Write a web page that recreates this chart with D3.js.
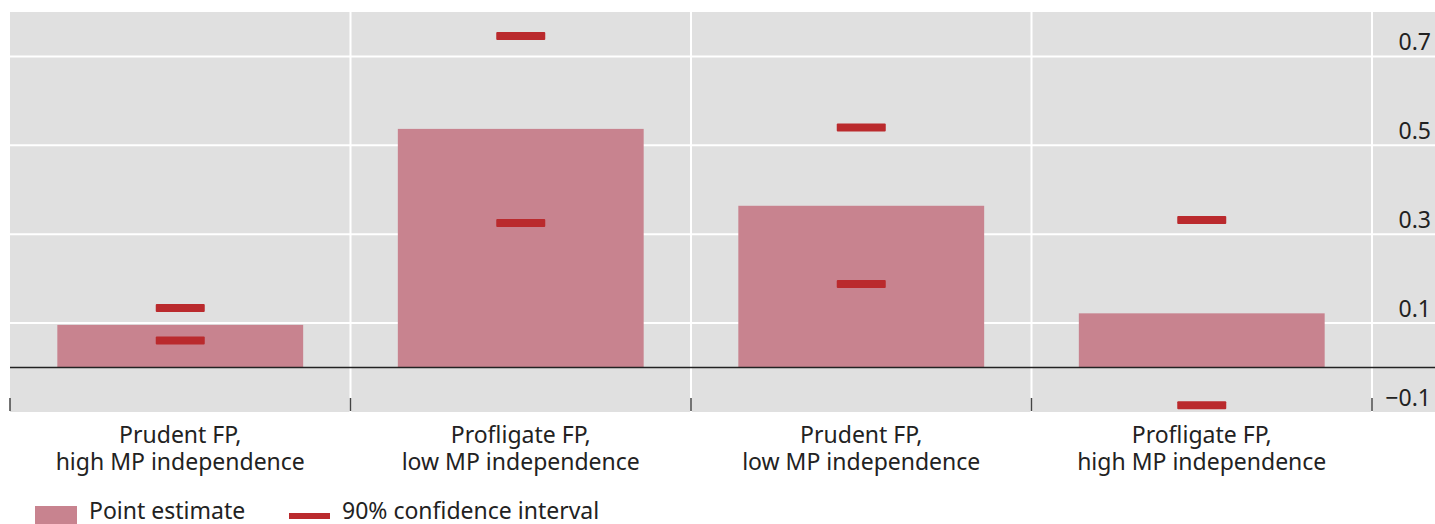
<!DOCTYPE html>
<html>
<head>
<meta charset="utf-8">
<script src="https://cdn.jsdelivr.net/npm/d3@7"></script>
<style>
  body { margin: 0; background: #fff; }
  svg text { font-family: "Noto Sans", "Open Sans", sans-serif; fill: #222; }
</style>
</head>
<body>
<div id="chart"></div>
<script>
const WIDTH = 1435, HEIGHT = 524;
const categories = ["Prudent FP,\nhigh MP independence", "Profligate FP,\nlow MP independence",
  "Prudent FP,\nlow MP independence", "Profligate FP,\nhigh MP independence"];
const pointEstimate = [0.096, 0.537, 0.364, 0.122];
const ciUpper = [0.134, 0.746, 0.540, 0.332];
const ciLower = [0.061, 0.325, 0.188, -0.085];
const yTicks = [-0.1, 0.1, 0.3, 0.5, 0.7];

const plot = {left: 10, right: 1372, top: 12, bottom: 412};
const BAR_COLOR = "#c8838f";
const CI_COLOR = "#ba2a2d";

let svg = d3.select("#chart").append("svg")
  .attr("width", WIDTH).attr("height", HEIGHT);

let x = d3.scaleBand().domain(categories).range([plot.left, plot.right]);
let y = d3.scaleLinear().domain([-0.1, 0.8]).range([plot.bottom, plot.top]);

// background
svg.append("rect")
  .attr("x", plot.left).attr("y", plot.top)
  .attr("width", WIDTH - plot.left).attr("height", plot.bottom - plot.top)
  .attr("fill", "#e0e0e0");

// horizontal grid
svg.append("g").selectAll("line").data(yTicks.filter(d => d > 0)).enter()
  .append("line")
  .attr("x1", plot.left).attr("x2", WIDTH)
  .attr("y1", d => y(d)).attr("y2", d => y(d))
  .attr("stroke", "#fff").attr("stroke-width", 2);

// vertical grid at band edges
let edges = categories.slice(1).map(c => x(c)).concat([plot.right]);
svg.append("g").selectAll("line").data(edges).enter()
  .append("line")
  .attr("x1", d => d).attr("x2", d => d)
  .attr("y1", plot.top).attr("y2", plot.bottom)
  .attr("stroke", "#fff").attr("stroke-width", 2);

// bars
let barW = x.bandwidth() * 0.722;
svg.append("g").selectAll("rect").data(pointEstimate).enter()
  .append("rect")
  .attr("x", (d, i) => x(categories[i]) + (x.bandwidth() - barW) / 2)
  .attr("width", barW)
  .attr("y", d => y(Math.max(d, 0)))
  .attr("height", d => Math.abs(y(d) - y(0)))
  .attr("fill", BAR_COLOR);

// zero line
svg.append("line")
  .attr("x1", plot.left).attr("x2", WIDTH)
  .attr("y1", y(0)).attr("y2", y(0))
  .attr("stroke", "#222").attr("stroke-width", 1.5);

// CI markers
let ciW = 49, ciH = 8;
let ci = [];
categories.forEach((c, i) => { ci.push({c: c, v: ciUpper[i]}); ci.push({c: c, v: ciLower[i]}); });
svg.append("g").selectAll("rect").data(ci).enter()
  .append("rect")
  .attr("x", d => x(d.c) + x.bandwidth() / 2 - ciW / 2)
  .attr("y", d => y(d.v) - ciH / 2)
  .attr("width", ciW).attr("height", ciH)
  .attr("rx", 1)
  .attr("fill", CI_COLOR);

// bottom x ticks
let tickX = [plot.left].concat(edges);
svg.append("g").selectAll("line").data(tickX).enter()
  .append("line")
  .attr("x1", d => d).attr("x2", d => d)
  .attr("y1", plot.bottom - 14).attr("y2", plot.bottom - 1)
  .attr("stroke", "#444").attr("stroke-width", 1.5);

// y tick labels (right side, sitting above the gridline)
svg.append("g").selectAll("text").data(yTicks).enter()
  .append("text")
  .attr("x", 1431)
  .attr("y", d => y(d) - 6)
  .attr("text-anchor", "end")
  .style("font-size", "23px")
  .text(d => d < 0 ? "\u2212" + Math.abs(d).toFixed(1) : d.toFixed(1));

// category labels
let catG = svg.append("g").selectAll("text").data(categories).enter()
  .append("text")
  .attr("text-anchor", "middle")
  .style("font-size", "23px");
catG.selectAll("tspan").data(d => d.split("\n").map(s => ({t: s, c: d}))).enter()
  .append("tspan")
  .attr("x", d => x(d.c) + x.bandwidth() / 2)
  .attr("y", (d, i) => 443 + i * 27)
  .text(d => d.t);

// legend
let leg = svg.append("g");
leg.append("rect").attr("x", 35).attr("y", 506).attr("width", 42).attr("height", 18).attr("fill", BAR_COLOR);
leg.append("text").attr("x", 89).attr("y", 519).style("font-size", "23px").text("Point estimate");
leg.append("rect").attr("x", 289).attr("y", 513).attr("width", 41).attr("height", 6).attr("fill", CI_COLOR);
leg.append("text").attr("x", 342).attr("y", 519).style("font-size", "23px").text("90% confidence interval");
</script>
</body>
</html>
